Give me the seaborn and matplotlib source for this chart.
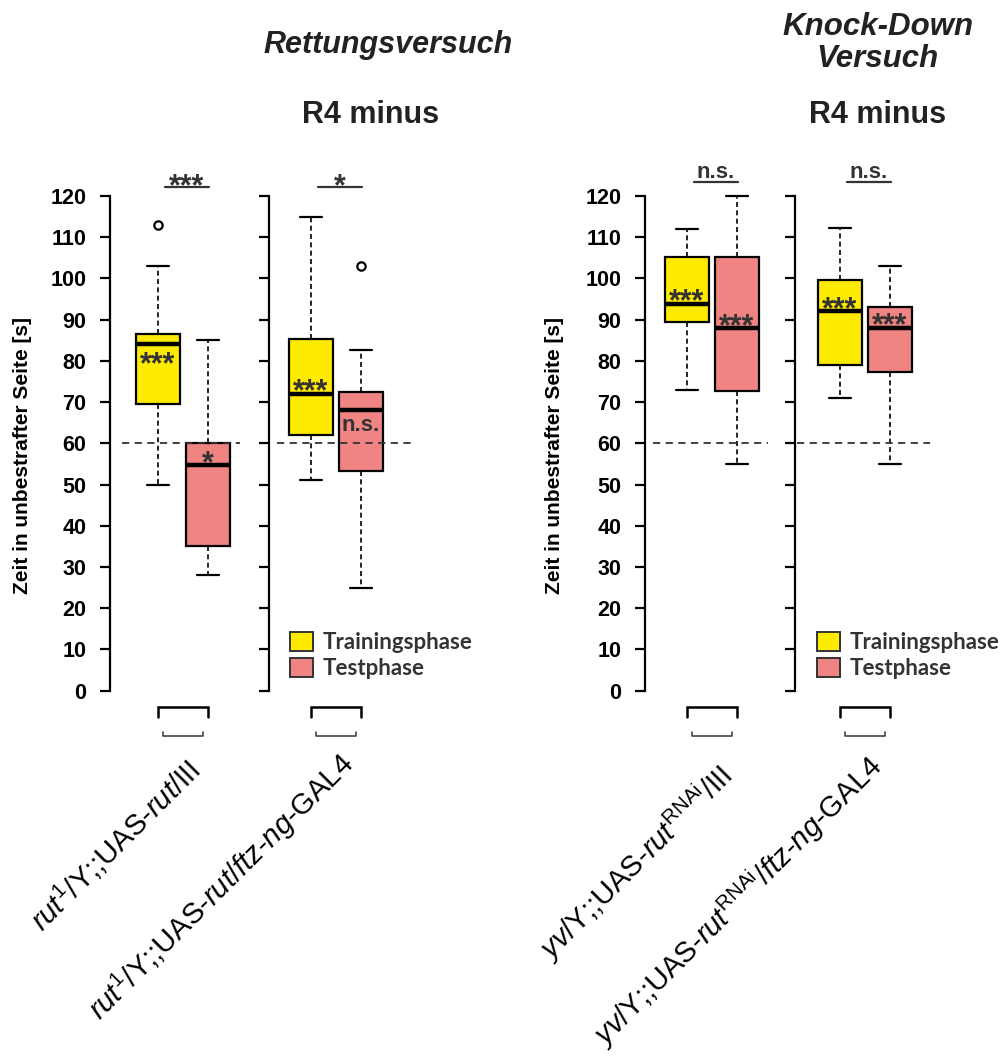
import matplotlib
matplotlib.use("Agg")
import matplotlib.pyplot as plt
import seaborn as sns
from matplotlib.patches import Patch

# ---------------------------------------------------------------- data
genotypes = [
    r"$\mathit{rut}^{1}$/Y;;UAS-$\mathit{rut}$/III",
    r"$\mathit{rut}^{1}$/Y;;UAS-$\mathit{rut}$/$\mathit{ftz}$-$\mathit{ng}$-GAL4",
    r"$\mathit{yv}$/Y;;UAS-$\mathit{rut}^{\mathrm{RNAi}}$/III",
    r"$\mathit{yv}$/Y;;UAS-$\mathit{rut}^{\mathrm{RNAi}}$/$\mathit{ftz}$-$\mathit{ng}$-GAL4",
]
phases = ["Trainingsphase", "Testphase"]

# box statistics, time on the unpunished side [s]
train_whislo = [50, 51, 73, 71]
train_q1 = [69.5, 62, 89.4, 79]
train_med = [84, 72, 93.7, 92.2]
train_q3 = [86.6, 85.4, 105.2, 99.7]
train_whishi = [103, 115, 112, 112.2]
train_fliers = [[113], [], [], []]

test_whislo = [28, 25, 55, 55]
test_q1 = [35, 53.3, 72.6, 77.2]
test_med = [54.8, 68, 88, 88.1]
test_q3 = [60, 72.5, 105.2, 93.1]
test_whishi = [85, 82.7, 120, 103]
test_fliers = [[], [103], [], []]

chance_level = 60

train_sig = ["***", "***", "***", "***"]
test_sig = ["*", "n.s.", "***", "***"]
pair_sig = ["***", "*", "n.s.", "n.s."]

# ---------------------------------------------------------------- style
sns.set_theme(style="ticks")
plt.rcParams["font.family"] = ["Liberation Sans", "DejaVu Sans"]
plt.rcParams["mathtext.fontset"] = "custom"
plt.rcParams["mathtext.rm"] = "Liberation Sans"
plt.rcParams["mathtext.it"] = "Liberation Sans:italic"
plt.rcParams["mathtext.bf"] = "Liberation Sans:bold"

YELLOW = "#FFEB00"
CORAL = "#F08482"
TXT = "#333333"

W, H = 1008, 1057
fig = plt.figure(figsize=(W / 100, H / 100), dpi=100)


def fx(px):
    return px / W


def fy(py):
    return 1 - py / H


# panel layout (pixels): spine x, offset of first box, dashed line extent
spine_x = [110, 269, 645, 795]
first_off = [0.96, 0.84, 0.84, 0.90]
dash_ext = [(-0.72, 1.64), (-0.68, 2.0), (-0.68, 1.62), (-0.86, 1.8)]
y0_px, y120_px = 690.7, 196.0
train_lab_y = [81.2, 74.7, 96.6, 94.6]
test_lab_y = [57.2, 64.5, 90.4, 90.7]
label_end = [(202, 773), (356, 766), (734, 778), (884, 768)]

STAR_FS = 22
NS_FS = 16


def sig_text(ax, x, yc, lab, **kw):
    fs = NS_FS if lab == "n.s." else STAR_FS
    off = 0.26 * fs if lab == "n.s." else 0.57 * fs
    ax.annotate(lab, (x, yc), xytext=(0, -off), textcoords="offset points",
                ha="center", va="baseline", fontsize=fs, fontweight="bold",
                color=TXT, annotation_clip=False, **kw)


axes = []
for i in range(4):
    ax = fig.add_axes([fx(spine_x[i]), fy(y0_px), fx(150), (y0_px - y120_px) / H])
    axes.append(ax)
    stats = [
        dict(whislo=train_whislo[i], q1=train_q1[i], med=train_med[i],
             q3=train_q3[i], whishi=train_whishi[i], fliers=train_fliers[i]),
        dict(whislo=test_whislo[i], q1=test_q1[i], med=test_med[i],
             q3=test_q3[i], whishi=test_whishi[i], fliers=test_fliers[i]),
    ]
    bp = ax.bxp(
        stats, positions=[0, 1], widths=0.88, capwidths=0.44,
        patch_artist=True, showfliers=True,
        boxprops=dict(linewidth=1.6, edgecolor="black"),
        whiskerprops=dict(linewidth=1.2, linestyle=(0, (3, 2)), color="black"),
        capprops=dict(linewidth=1.6, color="black"),
        medianprops=dict(linewidth=3.2, color="black", solid_capstyle="butt"),
        flierprops=dict(marker="o", markersize=6, markerfacecolor="white",
                        markeredgecolor="black", markeredgewidth=1.6),
    )
    for patch, col in zip(bp["boxes"], [YELLOW, CORAL]):
        patch.set_facecolor(col)
    for art in bp["whiskers"] + bp["caps"] + bp["fliers"] + bp["boxes"] + bp["medians"]:
        art.set_clip_on(False)

    ax.plot(dash_ext[i], [chance_level, chance_level], color=TXT, lw=1.3,
            ls=(0, (4, 3)), zorder=4, clip_on=False)

    ax.set_xlim(-first_off[i], -first_off[i] + 3)
    ax.set_ylim(0, 120)
    ax.set_xticks([])
    ax.set_yticks(range(0, 121, 10))
    if i in (0, 2):
        ax.set_yticklabels([str(v) for v in range(0, 121, 10)],
                           fontweight="bold", fontsize=15.5)
    else:
        ax.set_yticklabels([])
    ax.tick_params(axis="y", length=7, width=1.6, pad=10, colors="black")
    for s in ("top", "right", "bottom"):
        ax.spines[s].set_visible(False)
    ax.spines["left"].set_linewidth(1.6)
    ax.spines["left"].set_color("black")
    ax.set_facecolor("none")

    # significance inside the boxes
    sig_text(ax, 0, train_lab_y[i], train_sig[i], zorder=6)
    sig_text(ax, 1, test_lab_y[i], test_sig[i], zorder=6)

    # pairwise comparison above the panel
    bar_y = 122.1 if i < 2 else 123.4
    ax.plot([0.13, 1.02], [bar_y, bar_y], color=TXT, lw=1.6, clip_on=False)
    yc = 125.8 if pair_sig[i] == "n.s." else 124.5
    sig_text(ax, 0.57, yc, pair_sig[i])

    # group brackets below the axis
    ax.plot([0, 0, 1, 1], [-6.4, -4, -4, -6.4], color="black", lw=1.8,
            clip_on=False, solid_joinstyle="miter")
    ax.plot([0.1, 0.1, 0.9, 0.9], [-9.9, -11, -11, -9.9], color="#444444",
            lw=1.2, clip_on=False)

    # genotype label
    ex, ey = label_end[i]
    fig.text(fx(ex), fy(ey), genotypes[i], rotation=45, rotation_mode="anchor",
             ha="right", va="baseline", fontsize=21, color="black")

# y axis titles
for xc in (23, 555):
    fig.text(fx(xc), fy(455), "Zeit in unbestrafter Seite [s]", rotation=90,
             ha="center", va="center", fontsize=15, fontweight="bold", color="black")

# headings
fig.text(fx(388), fy(45), "Rettungsversuch", ha="center", va="center",
         fontsize=22, fontweight="bold", fontstyle="italic", color="#222222")
fig.text(fx(371), fy(115), "R4 minus", ha="center", va="center",
         fontsize=22, fontweight="bold", color="#222222")
fig.text(fx(878), fy(43), "Knock-Down\nVersuch", ha="center", va="center",
         fontsize=22.5, fontweight="bold", fontstyle="italic", color="#222222",
         linespacing=1.1)
fig.text(fx(878), fy(115), "R4 minus", ha="center", va="center",
         fontsize=22, fontweight="bold", color="#222222")

# legends
handles = [Patch(facecolor=c, edgecolor="#333333", linewidth=1.4) for c in (YELLOW, CORAL)]
for lx in (290, 817):
    fig.legend(handles, phases, loc="upper left", bbox_to_anchor=(fx(lx), fy(632)),
               frameon=False, borderpad=0, borderaxespad=0, handlelength=1.05,
               handleheight=0.95, handletextpad=0.4, labelspacing=0.2,
               prop=dict(family="Lato", weight="bold", size=16), labelcolor=TXT)

fig.savefig("out.png", dpi=100, facecolor="white")
